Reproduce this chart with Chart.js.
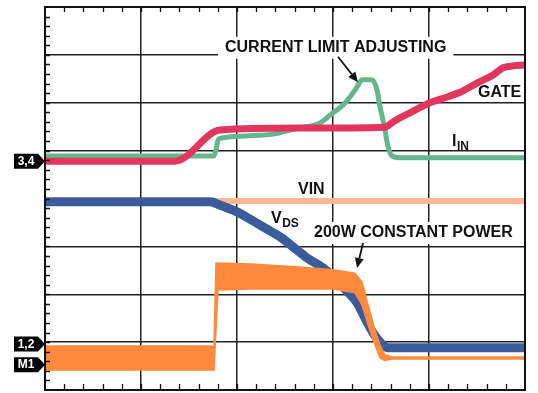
<!DOCTYPE html>
<html lang="en">
<head>
    <meta charset="UTF-8">
    <title>Startup into 200W constant power</title>
    <script src="https://cdn.jsdelivr.net/npm/chart.js@4.4.1/dist/chart.umd.min.js"></script>
    <style>
        html, body { margin: 0; padding: 0; background: #fff; }
        #wrap { width: 538px; height: 393px; position: relative; }
    </style>
</head>
<body>
    <div id="wrap"><canvas id="scope"></canvas></div>

    <script>
        // x = time in divisions (0..5), y = level in divisions (0..8)
        const gateT = [0, 1.354, 1.823, 2.656, 3.542, 3.625, 3.802, 4.010, 4.188, 4.323, 4.500, 4.667, 4.771, 4.875, 5.0];
        const gateV = [4.78, 4.78, 5.43, 5.47, 5.49, 5.60, 5.79, 6.00, 6.12, 6.22, 6.41, 6.58, 6.73, 6.77, 6.79];

        const iinT = [0, 1.760, 1.781, 1.802, 1.833, 2.135, 2.396, 2.552, 2.656, 2.865, 3.0, 3.104, 3.177, 3.25, 3.302, 3.406, 3.458, 3.490, 3.521, 3.542, 3.573, 3.615, 3.698, 5.0];
        const iinV = [4.89, 4.89, 5.01, 5.22, 5.26, 5.31, 5.35, 5.43, 5.47, 5.58, 5.79, 5.95, 6.12, 6.33, 6.48, 6.48, 6.27, 5.91, 5.64, 5.43, 5.08, 4.89, 4.85, 4.85];

        const vinT = [0, 5.0];
        const vinV = [3.95, 3.95];

        const vdsT = [0, 1.719, 1.823, 2.0, 2.135, 2.313, 2.448, 2.583, 2.729, 2.896, 3.0, 3.104, 3.25, 3.354, 3.438, 3.51, 3.573, 3.698, 5.0];
        const vdsV = [3.93, 3.93, 3.86, 3.72, 3.57, 3.36, 3.20, 2.99, 2.76, 2.55, 2.38, 2.15, 1.82, 1.42, 1.13, 0.96, 0.88, 0.88, 0.88];

        // M1 (power) is a noisy band: upper and lower edges
        const pwrHiT = [0, 1.760, 1.781, 2.135, 2.656, 3.0, 3.229, 3.302, 3.365, 3.438, 3.490, 3.542, 3.615, 5.0];
        const pwrHiV = [0.92, 0.92, 2.65, 2.63, 2.57, 2.51, 2.44, 2.26, 1.78, 1.25, 0.94, 0.73, 0.69, 0.69];
        const pwrLoT = [0, 1.760, 1.802, 2.135, 2.656, 3.0, 3.229, 3.302, 3.365, 3.438, 3.490, 3.542, 3.615, 5.0];
        const pwrLoV = [0.42, 0.42, 2.09, 2.11, 2.11, 2.11, 2.03, 1.78, 1.36, 0.94, 0.67, 0.61, 0.65, 0.65];

        // channel reference markers on the left edge
        const markerText = ['3,4', '1,2', 'M1'];
        const markerLevel = [4.78, 0.96, 0.53];

        const pts = (xs, ys) => xs.map((x, i) => ({ x: x, y: ys[i] }));

        // text callouts, in axis units
        const callouts = [
            { text: 'CURRENT LIMIT ADJUSTING', x: 1.875, y: 7.15, box: true },
            { text: 'GATE', x: 4.51, y: 6.22 },
            { text: 'I', sub: 'IN', x: 4.24, y: 5.18 },
            { text: 'VIN', x: 2.635, y: 4.18 },
            { text: 'V', sub: 'DS', x: 2.354, y: 3.57 },
            { text: '200W CONSTANT POWER', x: 2.802, y: 3.28, box: true }
        ];
        const arrows = [
            { from: [3.052, 6.96], to: [3.26, 6.43] },
            { from: [3.313, 3.07], to: [3.25, 2.55] }
        ];

        const scopeDecor = {
            id: 'scopeDecor',
            afterDatasetsDraw(chart) {
                const ctx = chart.ctx;
                const xs = chart.scales.x, ys = chart.scales.y;
                const a = chart.chartArea;
                ctx.save();

                // frame
                ctx.strokeStyle = '#111';
                ctx.lineWidth = 2;
                ctx.strokeRect(a.left, a.top, a.right - a.left, a.bottom - a.top);

                // minor ticks
                ctx.lineWidth = 1.3;
                ctx.beginPath();
                for (let i = 1; i < 25; i++) {
                    const px = Math.round(xs.getPixelForValue(i * 0.2)) + 0.5;
                    ctx.moveTo(px, a.top); ctx.lineTo(px, a.top + 5);
                    ctx.moveTo(px, a.bottom); ctx.lineTo(px, a.bottom - 6);
                }
                for (let i = 1; i < 40; i++) {
                    const py = Math.round(ys.getPixelForValue(i * 0.2)) + 0.5;
                    ctx.moveTo(a.left, py); ctx.lineTo(a.left + 5, py);
                }
                ctx.stroke();

                // channel markers
                ctx.font = 'bold 12px "Liberation Sans", Arial, sans-serif';
                ctx.textBaseline = 'middle';
                ctx.textAlign = 'center';
                markerText.forEach((t, i) => {
                    const py = ys.getPixelForValue(markerLevel[i]);
                    ctx.fillStyle = '#000';
                    ctx.beginPath();
                    ctx.moveTo(a.left - 31, py - 7.5);
                    ctx.lineTo(a.left - 7, py - 7.5);
                    ctx.lineTo(a.left, py);
                    ctx.lineTo(a.left - 7, py + 7.5);
                    ctx.lineTo(a.left - 31, py + 7.5);
                    ctx.closePath();
                    ctx.fill();
                    ctx.fillStyle = '#fff';
                    ctx.fillText(t, a.left - 19, py + 0.5);
                });

                // callouts
                ctx.textAlign = 'left';
                callouts.forEach(c => {
                    const px = xs.getPixelForValue(c.x);
                    const py = ys.getPixelForValue(c.y);
                    ctx.font = 'bold 16px "Liberation Sans", Arial, sans-serif';
                    let w = ctx.measureText(c.text).width;
                    if (c.box) {
                        ctx.fillStyle = '#fff';
                        ctx.fillRect(px - 7, py - 11, w + 14, 22);
                    }
                    ctx.fillStyle = '#111';
                    ctx.fillText(c.text, px, py);
                    if (c.sub) {
                        ctx.font = 'bold 12px "Liberation Sans", Arial, sans-serif';
                        ctx.fillText(c.sub, px + w + 0.5, py + 5);
                    }
                });

                // arrows
                ctx.strokeStyle = '#111';
                ctx.fillStyle = '#111';
                ctx.lineWidth = 1.8;
                arrows.forEach(ar => {
                    const x0 = xs.getPixelForValue(ar.from[0]), y0 = ys.getPixelForValue(ar.from[1]);
                    const x1 = xs.getPixelForValue(ar.to[0]), y1 = ys.getPixelForValue(ar.to[1]);
                    const ang = Math.atan2(y1 - y0, x1 - x0);
                    const hl = 10, hw = 4.5;
                    const bx = x1 - hl * Math.cos(ang), by = y1 - hl * Math.sin(ang);
                    ctx.beginPath();
                    ctx.moveTo(x0, y0); ctx.lineTo(bx, by);
                    ctx.stroke();
                    ctx.beginPath();
                    ctx.moveTo(x1, y1);
                    ctx.lineTo(bx + hw * Math.sin(ang), by - hw * Math.cos(ang));
                    ctx.lineTo(bx - hw * Math.sin(ang), by + hw * Math.cos(ang));
                    ctx.closePath();
                    ctx.fill();
                });
                ctx.restore();
            }
        };

        const trace = (data, color, width, order, smooth) => ({
            data: data,
            borderColor: color,
            backgroundColor: color,
            borderWidth: width,
            pointRadius: 0,
            tension: 0,
            cubicInterpolationMode: smooth ? 'monotone' : 'default',
            fill: false,
            order: order
        });

        const pwrLo = trace(pts(pwrLoT, pwrLoV), '#ff8a3d', 1.5, 1);
        pwrLo.fill = '-1';

        new Chart(document.getElementById('scope'), {
            type: 'line',
            data: {
                datasets: [
                    trace(pts(pwrHiT, pwrHiV), '#ff8a3d', 1.5, 1),
                    pwrLo,
                    trace(pts(vdsT, vdsV), '#3c5b9b', 9, 2, true),
                    trace(pts(vinT, vinV), '#fcb792', 6, 3),
                    trace(pts(gateT, gateV), '#e3365e', 7, 4, true),
                    trace(pts(iinT, iinV), '#64b68c', 5, 5, true)
                ]
            },
            options: {
                responsive: true,
                maintainAspectRatio: false,
                animation: false,
                layout: { padding: { left: 45, right: 13, top: 7, bottom: 3 } },
                plugins: {
                    legend: { display: false },
                    tooltip: { enabled: false }
                },
                scales: {
                    x: {
                        type: 'linear', min: 0, max: 5,
                        ticks: { display: false, stepSize: 1 },
                        grid: { color: '#222', lineWidth: 1.5, drawTicks: false },
                        border: { display: false }
                    },
                    y: {
                        type: 'linear', min: 0, max: 8,
                        ticks: { display: false, stepSize: 1 },
                        grid: { color: '#222', lineWidth: 1.5, drawTicks: false },
                        border: { display: false }
                    }
                }
            },
            plugins: [scopeDecor]
        });
    </script>
</body>
</html>
